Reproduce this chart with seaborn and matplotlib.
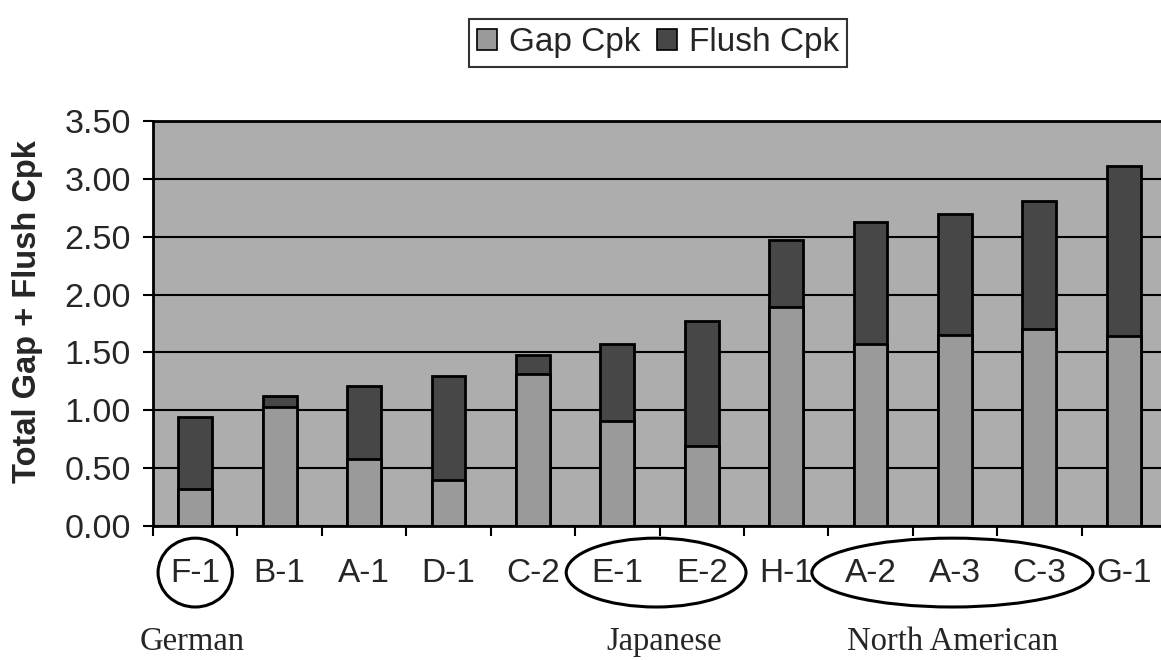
import matplotlib
matplotlib.use("Agg")
import matplotlib.pyplot as plt
from matplotlib.patches import Patch, Ellipse
import seaborn as sns
import pandas as pd
import numpy as np

categories = ["F-1", "B-1", "A-1", "D-1", "C-2", "E-1", "E-2", "H-1", "A-2", "A-3", "C-3", "G-1"]
gap_cpk = [0.32, 1.03, 0.58, 0.40, 1.31, 0.91, 0.69, 1.89, 1.57, 1.65, 1.70, 1.64]
flush_cpk = [0.62, 0.09, 0.63, 0.90, 0.17, 0.66, 1.08, 0.58, 1.06, 1.05, 1.11, 1.47]
yticks = [0.0, 0.5, 1.0, 1.5, 2.0, 2.5, 3.0, 3.5]

sns.set_theme(style="white")
plt.rcParams["font.family"] = ["Liberation Sans", "DejaVu Sans"]

df = pd.DataFrame({"plant": categories, "gap": gap_cpk, "flush": flush_cpk})
df["total"] = df["gap"] + df["flush"]

fig = plt.figure(figsize=(11.61, 6.60), dpi=100)
ax = fig.add_axes([153 / 1161, 1 - 526 / 660, 1013 / 1161, 405 / 660])
ax.set_facecolor("#adadad")

gap_col = "#9a9a9a"
flush_col = "#474747"

sns.barplot(data=df, x="plant", y="total", order=categories, color=flush_col,
            saturation=1, width=0.4, edgecolor="black", linewidth=2, ax=ax, zorder=3)
sns.barplot(data=df, x="plant", y="gap", order=categories, color=gap_col,
            saturation=1, width=0.4, edgecolor="black", linewidth=2, ax=ax, zorder=4)

ax.set_xlim(-0.5, len(categories) - 0.5)
ax.set_ylim(0, 3.5)
ax.set_yticks(yticks)
ax.set_yticklabels([f"{v:.2f}" for v in yticks], fontsize=24.5)
ax.yaxis.grid(True, color="black", linewidth=1.5, zorder=1)
ax.set_axisbelow(True)

# category boundary ticks (Excel style) + labels at centres
n = len(categories)
ax.set_xticks(np.arange(-0.5, n, 1.0))
ax.set_xticklabels([])
ax.set_xticks(np.arange(n), minor=True)
ax.set_xticklabels(categories, minor=True, fontsize=24)
ax.tick_params(axis="x", which="major", direction="out", length=7, width=1.5, color="black", bottom=True)
ax.tick_params(axis="x", which="minor", length=0, pad=23)
ax.tick_params(axis="y", direction="out", length=7, width=1.5, color="black", left=True, pad=9)

for s in ["left", "bottom", "top"]:
    ax.spines[s].set_visible(True)
    ax.spines[s].set_color("black")
    ax.spines[s].set_linewidth(2)
ax.spines["right"].set_visible(False)

ax.set_xlabel("")
ax.set_ylabel("Total Gap + Flush Cpk", fontsize=23.5, fontweight="bold")
ax.yaxis.set_label_coords(-0.109, 0.53)

# group ellipses and labels
tr = ax.get_xaxis_transform()
for cx, w in [(0.0, 0.88), (5.46, 2.13), (8.97, 3.33)]:
    ax.add_patch(Ellipse((cx, -0.115), w, 0.17, transform=tr, fill=False,
                         edgecolor="black", linewidth=2.2, clip_on=False))
for cx, lab in [(-0.04, "German"), (5.56, "Japanese"), (8.97, "North American")]:
    ax.text(cx, -0.286, lab, transform=tr, ha="center", va="center",
            fontsize=23.5, family=["Liberation Serif", "DejaVu Serif"])

handles = [Patch(facecolor=gap_col, edgecolor="black", linewidth=1.2, label="Gap Cpk"),
           Patch(facecolor=flush_col, edgecolor="black", linewidth=1.2, label="Flush Cpk")]
leg = fig.legend(handles=handles, loc="center", bbox_to_anchor=(658 / 1161, 1 - 43 / 660),
                 ncol=2, fontsize=24, frameon=True, fancybox=False, edgecolor="black",
                 handlelength=0.6, handleheight=0.6, handletextpad=0.35, columnspacing=0.5,
                 borderpad=0.25)
leg.get_frame().set_linewidth(1.5)

fig.savefig("out.png", dpi=100, facecolor="white")
